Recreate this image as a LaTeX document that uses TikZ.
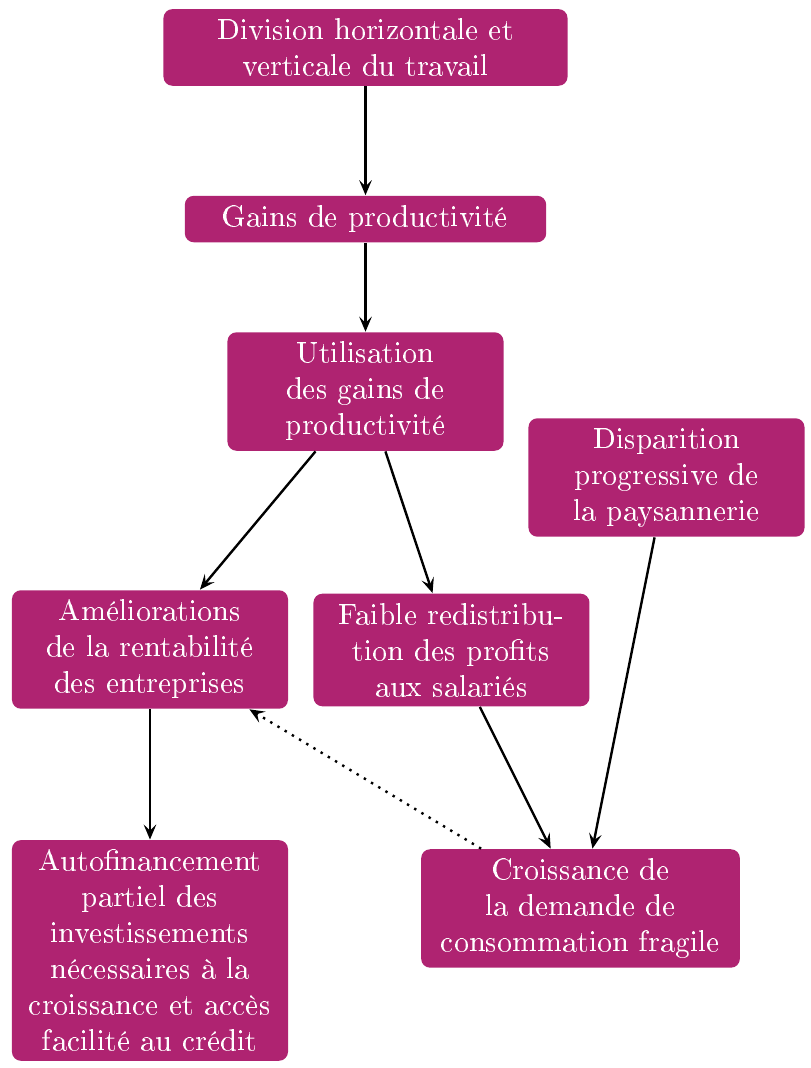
\documentclass[tikz,border=0pt]{standalone}
\usepackage[T1]{fontenc}
\usepackage{tikz}
\usetikzlibrary{positioning,arrows.meta}

\definecolor{boxcol}{RGB}{175,35,113}

\begin{document}
\begin{tikzpicture}[
    bloc/.style={rectangle, fill=boxcol, text=white, rounded corners=3pt, align=center, text width=3cm, inner sep=3.33pt},
    arrow/.style={-{Stealth[length=5pt, width=4.2pt, inset=2pt]}, thick, black},
    retour/.style={arrow, dotted},
]
    \useasboundingbox (0,0) rectangle (9.501,-12.512);

    % Chaine principale
    \node[bloc, text width=4.5cm] (division) at (4.282,-0.556) {Division horizontale et\\verticale du travail};
    \node[bloc, text width=4cm] (gains) at (4.282,-2.566) {Gains de productivité};
    \node[bloc] (utilisation) at (4.282,-4.587) {Utilisation\\des gains de\\productivité};

    % Effets
    \node[bloc] (paysans) at (7.808,-5.594) {Disparition\\progressive de\\la paysannerie};
    \node[bloc] (rentab) at (1.757,-7.609) {Améliorations\\de la rentabilité\\des entreprises};
    \node[bloc] (redistrib) at (5.289,-7.615) {Faible redistribu-\\tion des profits\\aux salariés};
    \node[bloc] (autofin) at (1.757,-11.135) {Autofinancement\\partiel des\\investissements\\nécessaires à la\\croissance et accès\\facilité au crédit};
    \node[bloc, text width=3.5cm] (demande) at (6.801,-10.643) {Croissance de\\la demande de\\consommation fragile};

    % Fleches
    \draw[arrow] (division) -- (gains);
    \draw[arrow] (gains) -- (utilisation);
    \draw[arrow] (utilisation) -- (rentab);
    \draw[arrow] (utilisation) -- (redistrib);
    \draw[arrow] (rentab) -- (autofin);
    \draw[arrow] (redistrib) -- (demande);
    \draw[arrow] (paysans) -- (demande);
    \draw[retour] (demande) -- (rentab);
\end{tikzpicture}
\end{document}
